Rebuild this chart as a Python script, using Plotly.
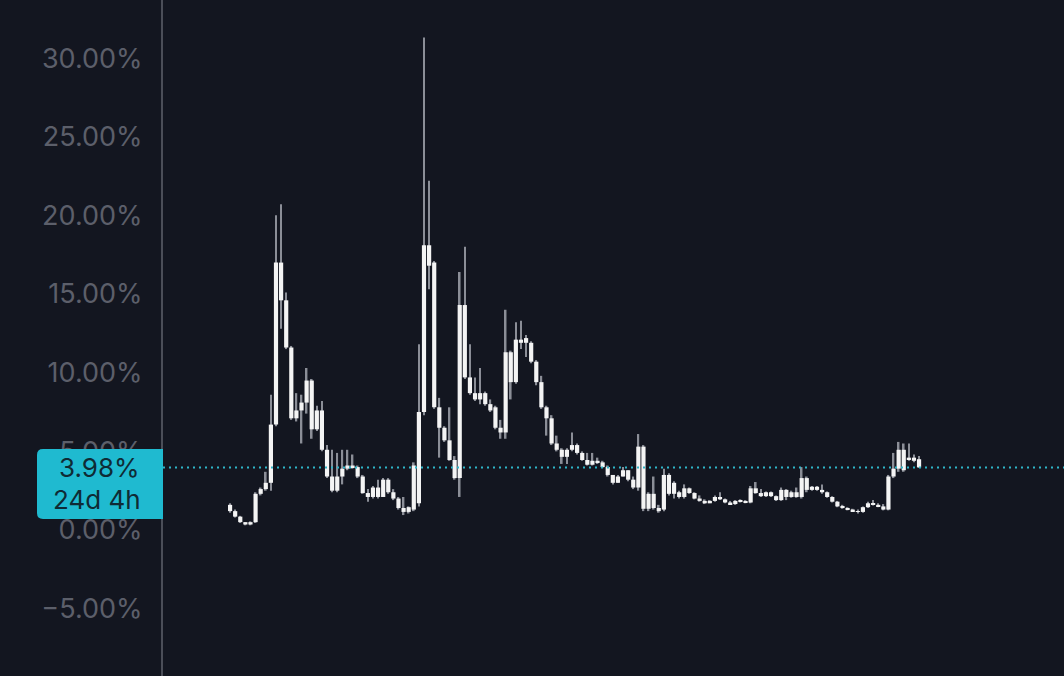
import plotly.graph_objects as go

# OHLC values (in %), oldest first
opens = [1.6, 1.2, 0.85, 0.5, 0.35, 0.5, 2.3, 2.6, 3.0, 6.7,
         17.0, 14.6, 11.6, 7.1, 7.6, 8.1, 9.5, 6.4, 7.6, 5.1,
         3.4, 2.5, 3.4, 3.9, 4.1, 4.0, 3.4, 2.35, 2.1, 2.7,
         2.1, 3.2, 2.4, 2.0, 1.4, 1.15, 1.3, 1.7, 7.5, 18.1,
         17.0, 7.8, 6.5, 5.7, 4.45, 3.3, 14.3, 9.7, 8.7, 8.3,
         8.7, 8.0, 7.8, 6.5, 6.2, 11.3, 9.4, 12.1, 11.9, 11.9,
         10.7, 9.4, 7.8, 7.1, 5.5, 5.1, 4.65, 5.1, 5.4, 4.9,
         4.45, 4.15, 4.4, 4.3, 4.0, 3.5, 3.0, 3.4, 3.8, 3.2,
         2.7, 5.3, 1.35, 2.3, 1.4, 1.3, 3.5, 2.3, 2.4, 2.1,
         2.65, 2.35, 2.0, 1.85, 1.7, 1.85, 2.1, 1.95, 1.75, 1.65,
         1.85, 1.8, 1.75, 2.65, 2.35, 2.15, 2.4, 2.15, 1.9, 2.55,
         2.1, 2.4, 2.1, 3.3, 2.55, 2.75, 2.55, 2.4, 2.1, 1.8,
         1.5, 1.4, 1.3, 1.2, 1.15, 1.45, 1.7, 1.6, 1.5, 1.3,
         3.4, 3.9, 5.1, 4.45, 4.6, 4.5]
highs = [1.7, 1.3, 0.9, 0.5, 0.55, 2.4, 2.7, 3.7, 8.6, 20.0,
         20.7, 15.1, 11.7, 8.7, 8.6, 10.3, 9.6, 7.9, 8.2, 5.4,
         5.1, 4.9, 5.1, 5.1, 4.8, 4.1, 3.5, 2.6, 2.8, 3.2,
         3.3, 3.3, 2.6, 2.1, 2.1, 1.5, 4.3, 11.8, 31.3, 22.2,
         17.1, 8.4, 6.6, 7.8, 4.7, 16.4, 18.0, 11.8, 9.7, 10.3,
         8.8, 8.3, 7.9, 7.0, 14.0, 11.4, 13.2, 13.3, 12.4, 12.0,
         10.8, 9.8, 7.9, 7.3, 6.0, 5.2, 5.2, 6.2, 5.5, 5.0,
         4.9, 4.9, 4.6, 4.4, 4.1, 3.5, 3.5, 4.0, 3.8, 3.4,
         6.1, 5.4, 2.4, 3.4, 1.6, 3.9, 3.6, 3.1, 2.5, 2.9,
         2.7, 2.4, 2.2, 1.95, 1.9, 2.2, 2.4, 2.0, 1.85, 1.9,
         1.95, 1.9, 2.8, 3.05, 2.6, 2.45, 2.45, 2.2, 2.7, 2.6,
         2.5, 2.7, 4.0, 3.4, 2.8, 2.8, 2.9, 2.45, 2.15, 1.85,
         1.6, 1.45, 1.35, 1.3, 1.5, 1.8, 1.9, 1.7, 1.65, 3.5,
         4.9, 5.6, 5.5, 5.5, 4.8, 4.7]
lows = [1.1, 0.8, 0.45, 0.3, 0.3, 0.45, 2.2, 2.5, 2.5, 6.6,
        12.8, 11.5, 7.0, 6.9, 5.5, 7.4, 5.8, 6.3, 5.0, 3.3,
        2.4, 2.4, 2.9, 3.8, 3.9, 3.3, 2.3, 1.8, 2.0, 2.0,
        2.1, 2.3, 1.9, 1.3, 0.95, 1.05, 1.2, 1.5, 7.3, 15.3,
        7.7, 4.6, 5.6, 4.4, 3.2, 2.1, 9.6, 8.6, 8.2, 8.0,
        7.9, 7.5, 6.4, 5.8, 5.8, 8.3, 9.3, 11.5, 11.0, 10.6,
        9.2, 7.7, 6.0, 5.4, 5.0, 4.2, 4.2, 5.0, 4.8, 4.4,
        4.1, 4.1, 4.2, 3.95, 3.4, 2.9, 3.0, 3.4, 3.1, 2.6,
        2.5, 1.2, 1.2, 1.3, 1.1, 1.2, 2.2, 2.0, 2.0, 2.0,
        2.3, 1.95, 1.8, 1.65, 1.7, 1.8, 1.9, 1.7, 1.6, 1.6,
        1.75, 1.7, 1.7, 2.3, 2.1, 2.1, 2.1, 1.85, 1.85, 1.9,
        2.05, 2.05, 2.0, 2.4, 2.5, 2.5, 2.3, 2.05, 1.75, 1.45,
        1.35, 1.25, 1.15, 1.05, 1.1, 1.4, 1.55, 1.45, 1.25, 1.25,
        3.3, 3.7, 3.7, 4.4, 4.3, 3.95]
closes = [1.2, 0.85, 0.5, 0.35, 0.5, 2.3, 2.6, 3.0, 6.7, 17.0,
          14.6, 11.6, 7.1, 7.6, 8.1, 9.5, 6.4, 7.6, 5.1, 3.4,
          2.5, 3.4, 3.9, 4.1, 4.0, 3.4, 2.35, 2.1, 2.7, 2.1,
          3.2, 2.4, 2.0, 1.4, 1.15, 1.45, 4.1, 7.5, 18.1, 16.8,
          7.8, 6.5, 5.7, 4.45, 3.3, 14.3, 9.7, 8.7, 8.3, 8.7,
          8.0, 7.6, 6.5, 6.2, 11.3, 9.4, 12.1, 11.9, 12.2, 10.7,
          9.4, 7.8, 7.1, 5.5, 5.1, 4.65, 5.1, 5.4, 4.9, 4.45,
          4.15, 4.4, 4.3, 4.0, 3.5, 3.0, 3.4, 3.8, 3.2, 2.7,
          5.3, 1.35, 2.3, 1.4, 1.2, 3.5, 2.3, 3.0, 2.1, 2.65,
          2.35, 2.0, 1.85, 1.7, 1.85, 2.1, 1.95, 1.75, 1.65, 1.85,
          1.8, 1.75, 2.65, 2.35, 2.15, 2.4, 2.15, 1.9, 2.55, 2.1,
          2.4, 2.1, 3.3, 2.55, 2.75, 2.55, 2.4, 2.1, 1.8, 1.5,
          1.4, 1.3, 1.2, 1.15, 1.45, 1.7, 1.6, 1.5, 1.3, 3.4,
          3.9, 5.1, 3.8, 4.6, 4.4, 3.98]

tick_values = [-5, 0, 5, 10, 15, 20, 25, 30]
last_value = 3.98
last_label = "3.98%"
countdown_label = "24d 4h"

BG = "#131620"
FONT = "Inter, Roboto, sans-serif"
idx = list(range(len(closes)))

wick_len = [h - l for h, l in zip(highs, lows)]
body_base = [min(o, c) for o, c in zip(opens, closes)]
body_len = [abs(c - o) for o, c in zip(opens, closes)]

fig = go.Figure()
# wicks (thin bars from low to high)
fig.add_trace(go.Bar(x=idx, y=wick_len, base=lows, width=0.32,
                     marker=dict(color="#8b8e97", line=dict(width=0)),
                     hoverinfo="skip", showlegend=False))
# bodies (open to close)
fig.add_trace(go.Bar(x=idx, y=body_len, base=body_base, width=0.82,
                     marker=dict(color="#f4f4f4", line=dict(width=0)),
                     showlegend=False))

n = len(closes)
x0 = -13.14
x1 = (n - 1) + 28.4

# last value dotted line
fig.add_shape(type="line", xref="x", yref="y", x0=x0, x1=x1,
              y0=last_value, y1=last_value,
              line=dict(color="#2fb5c8", width=2, dash="2px,4px"), layer="above")

# label box (rounded on the left side)
plot_w = 1064 - 163
px = lambda p: (p - 163) / plot_w
bx0, bx1 = px(37), px(163)
r = px(43) - px(37)
top_v, bot_v = 5.15, 0.70
rv = 0.38
path = (f"M {bx1},{top_v} L {bx0 + r},{top_v} Q {bx0},{top_v} {bx0},{top_v - rv} "
        f"L {bx0},{bot_v + rv} Q {bx0},{bot_v} {bx0 + r},{bot_v} L {bx1},{bot_v} Z")
fig.add_shape(type="path", path=path, xref="paper", yref="y",
              fillcolor="#1fbad0", line=dict(width=0), layer="above")

fig.add_annotation(x=px(99), y=1 - 467 / 676, xref="paper", yref="paper",
                   xanchor="center", yanchor="middle",
                   text=last_label, showarrow=False,
                   font=dict(family=FONT, size=26, color="#0f2b35"))
fig.add_annotation(x=px(97), y=1 - 499 / 676, xref="paper", yref="paper",
                   xanchor="center", yanchor="middle",
                   text=countdown_label, showarrow=False,
                   font=dict(family=FONT, size=26, color="#0f2b35"))

fig.update_layout(
    width=1064, height=676,
    margin=dict(l=163, r=0, t=0, b=0),
    paper_bgcolor=BG, plot_bgcolor=BG,
    barmode="overlay",
    showlegend=False,
    xaxis=dict(range=[x0, x1], showgrid=False, zeroline=False,
               showticklabels=False, showline=False, fixedrange=True),
    yaxis=dict(range=[-9.28, 33.69], tickvals=tick_values,
               ticktext=[f"{v:.2f}%".replace("-", "\u2212") for v in tick_values],
               showgrid=False, zeroline=False,
               showline=True, linecolor="#4b4e58", linewidth=2,
               ticks="", ticklabelstandoff=13,
               tickfont=dict(family=FONT, size=27, color="#5c5f6a"),
               fixedrange=True),
)

fig.write_html("out.html",
               config={"displayModeBar": False},
               post_script="document.body.style.margin='0';"
                           "document.body.style.background='#131620';"
                           "document.body.style.overflow='hidden';")
